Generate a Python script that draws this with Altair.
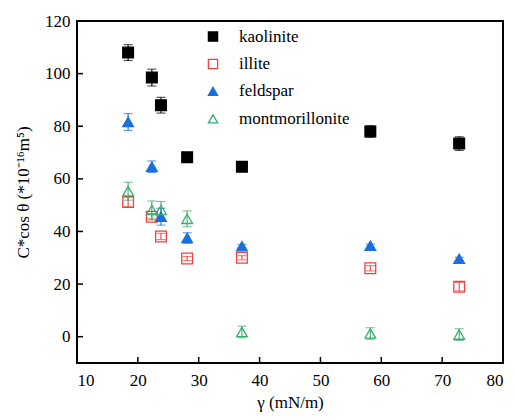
import altair as alt
import pandas as pd

series = ["kaolinite", "illite", "feldspar", "montmorillonite"]
colors = ["#000000", "#F14040", "#1A6FDF", "#37AD6B"]
fills = ["#000000", "transparent", "#1A6FDF", "transparent"]
shapes = ["square", "square", "triangle-up", "triangle-up"]

gamma = [18.4, 22.3, 23.8, 28.1, 37.1, 58.2, 72.8]
kaolinite = [108.0, 98.5, 88.0, 68.2, 64.6, 78.0, 73.4]
kaolinite_err = [3.0, 3.2, 3.0, 1.0, 1.2, 2.2, 2.6]
illite = [51.2, 45.6, 38.1, 29.7, 30.0, 26.0, 19.0]
illite_err = [1.8, 1.2, 1.2, 0.8, 0.8, 1.0, 1.6]
feldspar = [81.6, 64.6, 45.6, 37.5, 34.4, 34.6, 29.6]
feldspar_err = [3.2, 2.2, 3.2, 2.0, 0.6, 0.6, 0.6]
montmorillonite = [55.3, 48.2, 48.2, 44.8, 1.8, 1.2, 0.8]
montmorillonite_err = [3.4, 3.4, 3.2, 3.0, 2.2, 2.2, 2.2]

x_ticks = [10, 20, 30, 40, 50, 60, 70, 80]
y_ticks = [0, 20, 40, 60, 80, 100, 120]

rows = []
for name, vals, errs in [
    ("kaolinite", kaolinite, kaolinite_err),
    ("illite", illite, illite_err),
    ("feldspar", feldspar, feldspar_err),
    ("montmorillonite", montmorillonite, montmorillonite_err),
]:
    for g, v, e in zip(gamma, vals, errs):
        rows.append({"series": name, "gamma": g, "value": v, "lo": v - e, "hi": v + e})
df = pd.DataFrame(rows)

FONT = "Liberation Serif, serif"
W, H = 426, 342
xscale = alt.Scale(domain=[10, 80], nice=False, zero=False)
yscale = alt.Scale(domain=[-10, 120], nice=False, zero=False)
cscale = alt.Scale(domain=series, range=colors)

xaxis = alt.Axis(values=x_ticks, title="γ (mN/m)", ticks=False, labelPadding=9,
                 grid=False, domain=False, format="d")
yaxis = alt.Axis(values=y_ticks, title="C*cos θ (*10⁻¹⁶m⁵)", ticks=False, labelPadding=7,
                 grid=False, domain=False, format="d")

base = alt.Chart(df)

err = base.mark_errorbar(ticks=alt.MarkConfig(size=9), thickness=1.1).encode(
    x=alt.X("gamma:Q", scale=xscale, axis=xaxis),
    y=alt.Y("lo:Q", scale=yscale, axis=yaxis),
    y2="hi:Q",
    color=alt.Color("series:N", scale=cscale, legend=None),
)

pts = base.mark_point(size=115, opacity=1, strokeWidth=1.3).encode(
    x=alt.X("gamma:Q", scale=xscale, axis=xaxis),
    y=alt.Y("value:Q", scale=yscale, axis=yaxis),
    color=alt.Color("series:N", scale=cscale, legend=None),
    fill=alt.Fill("series:N", scale=alt.Scale(domain=series, range=fills), legend=None),
    shape=alt.Shape("series:N", scale=alt.Scale(domain=series, range=shapes), legend=None),
)

xt = pd.DataFrame({"t": x_ticks[1:-1]})
yt = pd.DataFrame({"t": y_ticks[:-1]})

xtick_rules = alt.Chart(xt).mark_rule(color="black", strokeWidth=1.5).encode(
    x=alt.X("t:Q", scale=xscale, axis=xaxis),
    y=alt.value(H), y2=alt.value(H - 6),
)
ytick_rules = alt.Chart(yt).mark_rule(color="black", strokeWidth=1.5).encode(
    y=alt.Y("t:Q", scale=yscale, axis=yaxis),
    x=alt.value(0), x2=alt.value(6),
)

# manual legend
legend_layers = []
for i, name in enumerate(series):
    ld = pd.DataFrame({"series": [name]})
    ypix = 15.6 + 27.4 * i
    sym = alt.Chart(ld).mark_point(
        shape=shapes[i], size=85, filled=False, opacity=1, strokeWidth=1.3,
        color=colors[i], fill=fills[i],
    ).encode(x=alt.value(136), y=alt.value(ypix))
    txt = alt.Chart(ld).mark_text(
        align="left", baseline="middle", fontSize=17, font=FONT, color="black",
    ).encode(x=alt.value(162), y=alt.value(ypix), text="series:N")
    legend_layers += [sym, txt]

chart = alt.layer(xtick_rules, ytick_rules, err, pts, *legend_layers).properties(
    width=W, height=H,
    autosize=alt.AutoSizeParams(type="none"),
    padding={"left": 77, "top": 21, "right": 12, "bottom": 57},
).configure_view(
    stroke="black", strokeWidth=2
).configure_axis(
    labelFont=FONT, titleFont=FONT, labelFontSize=17, titleFontSize=17,
    labelColor="black", titleColor="black", titleFontWeight="normal",
).configure_axisX(titlePadding=6).configure_axisY(titlePadding=12)

chart.save("out.html", embed_options={"renderer": "svg", "actions": False})
